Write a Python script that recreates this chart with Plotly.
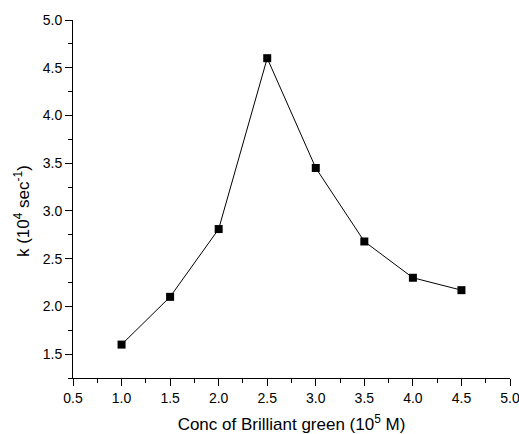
import plotly.graph_objects as go

conc = [1.0, 1.5, 2.0, 2.5, 3.0, 3.5, 4.0, 4.5]
k_vals = [1.60, 2.10, 2.81, 4.60, 3.45, 2.68, 2.30, 2.17]

x_ticks = [0.5, 1.0, 1.5, 2.0, 2.5, 3.0, 3.5, 4.0, 4.5, 5.0]
y_ticks = [1.5, 2.0, 2.5, 3.0, 3.5, 4.0, 4.5, 5.0]

x_title = "Conc of Brilliant green (10<sup>5</sup> M)"
y_title = "k (10<sup>4</sup> sec<sup>-1</sup>)"

font_family = "Liberation Sans, Arial, sans-serif"

fig = go.Figure(go.Scatter(
    x=conc, y=k_vals, mode="lines+markers",
    line=dict(color="black", width=1),
    marker=dict(symbol="square", size=8, color="black"),
    showlegend=False,
))

axis_common = dict(
    showline=True, linecolor="black", linewidth=1,
    ticks="outside", ticklen=7, tickwidth=1, tickcolor="black",
    showgrid=False, zeroline=False, mirror=False,
    tickfont=dict(family=font_family, size=14, color="black"),
    tickformat=".1f",
    ticklabeloverflow="allow",
    minor=dict(ticks="outside", ticklen=4, tickwidth=1, tickcolor="black", dtick=0.25, showgrid=False),
)

fig.update_layout(
    width=519, height=434,
    margin=dict(l=73, r=9, t=20, b=56, autoexpand=False),
    paper_bgcolor="white", plot_bgcolor="white",
    font=dict(family=font_family, color="black"),
    xaxis=dict(
        range=[0.5, 5.0], tickvals=x_ticks,
        title=dict(text=x_title,
                   font=dict(family=font_family, size=17, color="black"), standoff=13),
        automargin=False,
        **axis_common,
    ),
    yaxis=dict(
        range=[1.25, 5.0], tickvals=y_ticks,
        automargin=False,
        **axis_common,
    ),
    annotations=[dict(
        text=y_title, textangle=-90, showarrow=False,
        xref="paper", yref="paper", x=-0.117, y=0.466,
        xanchor="center", yanchor="middle",
        font=dict(family=font_family, size=17, color="black"),
    )],
)

fig.write_html("out.html")
